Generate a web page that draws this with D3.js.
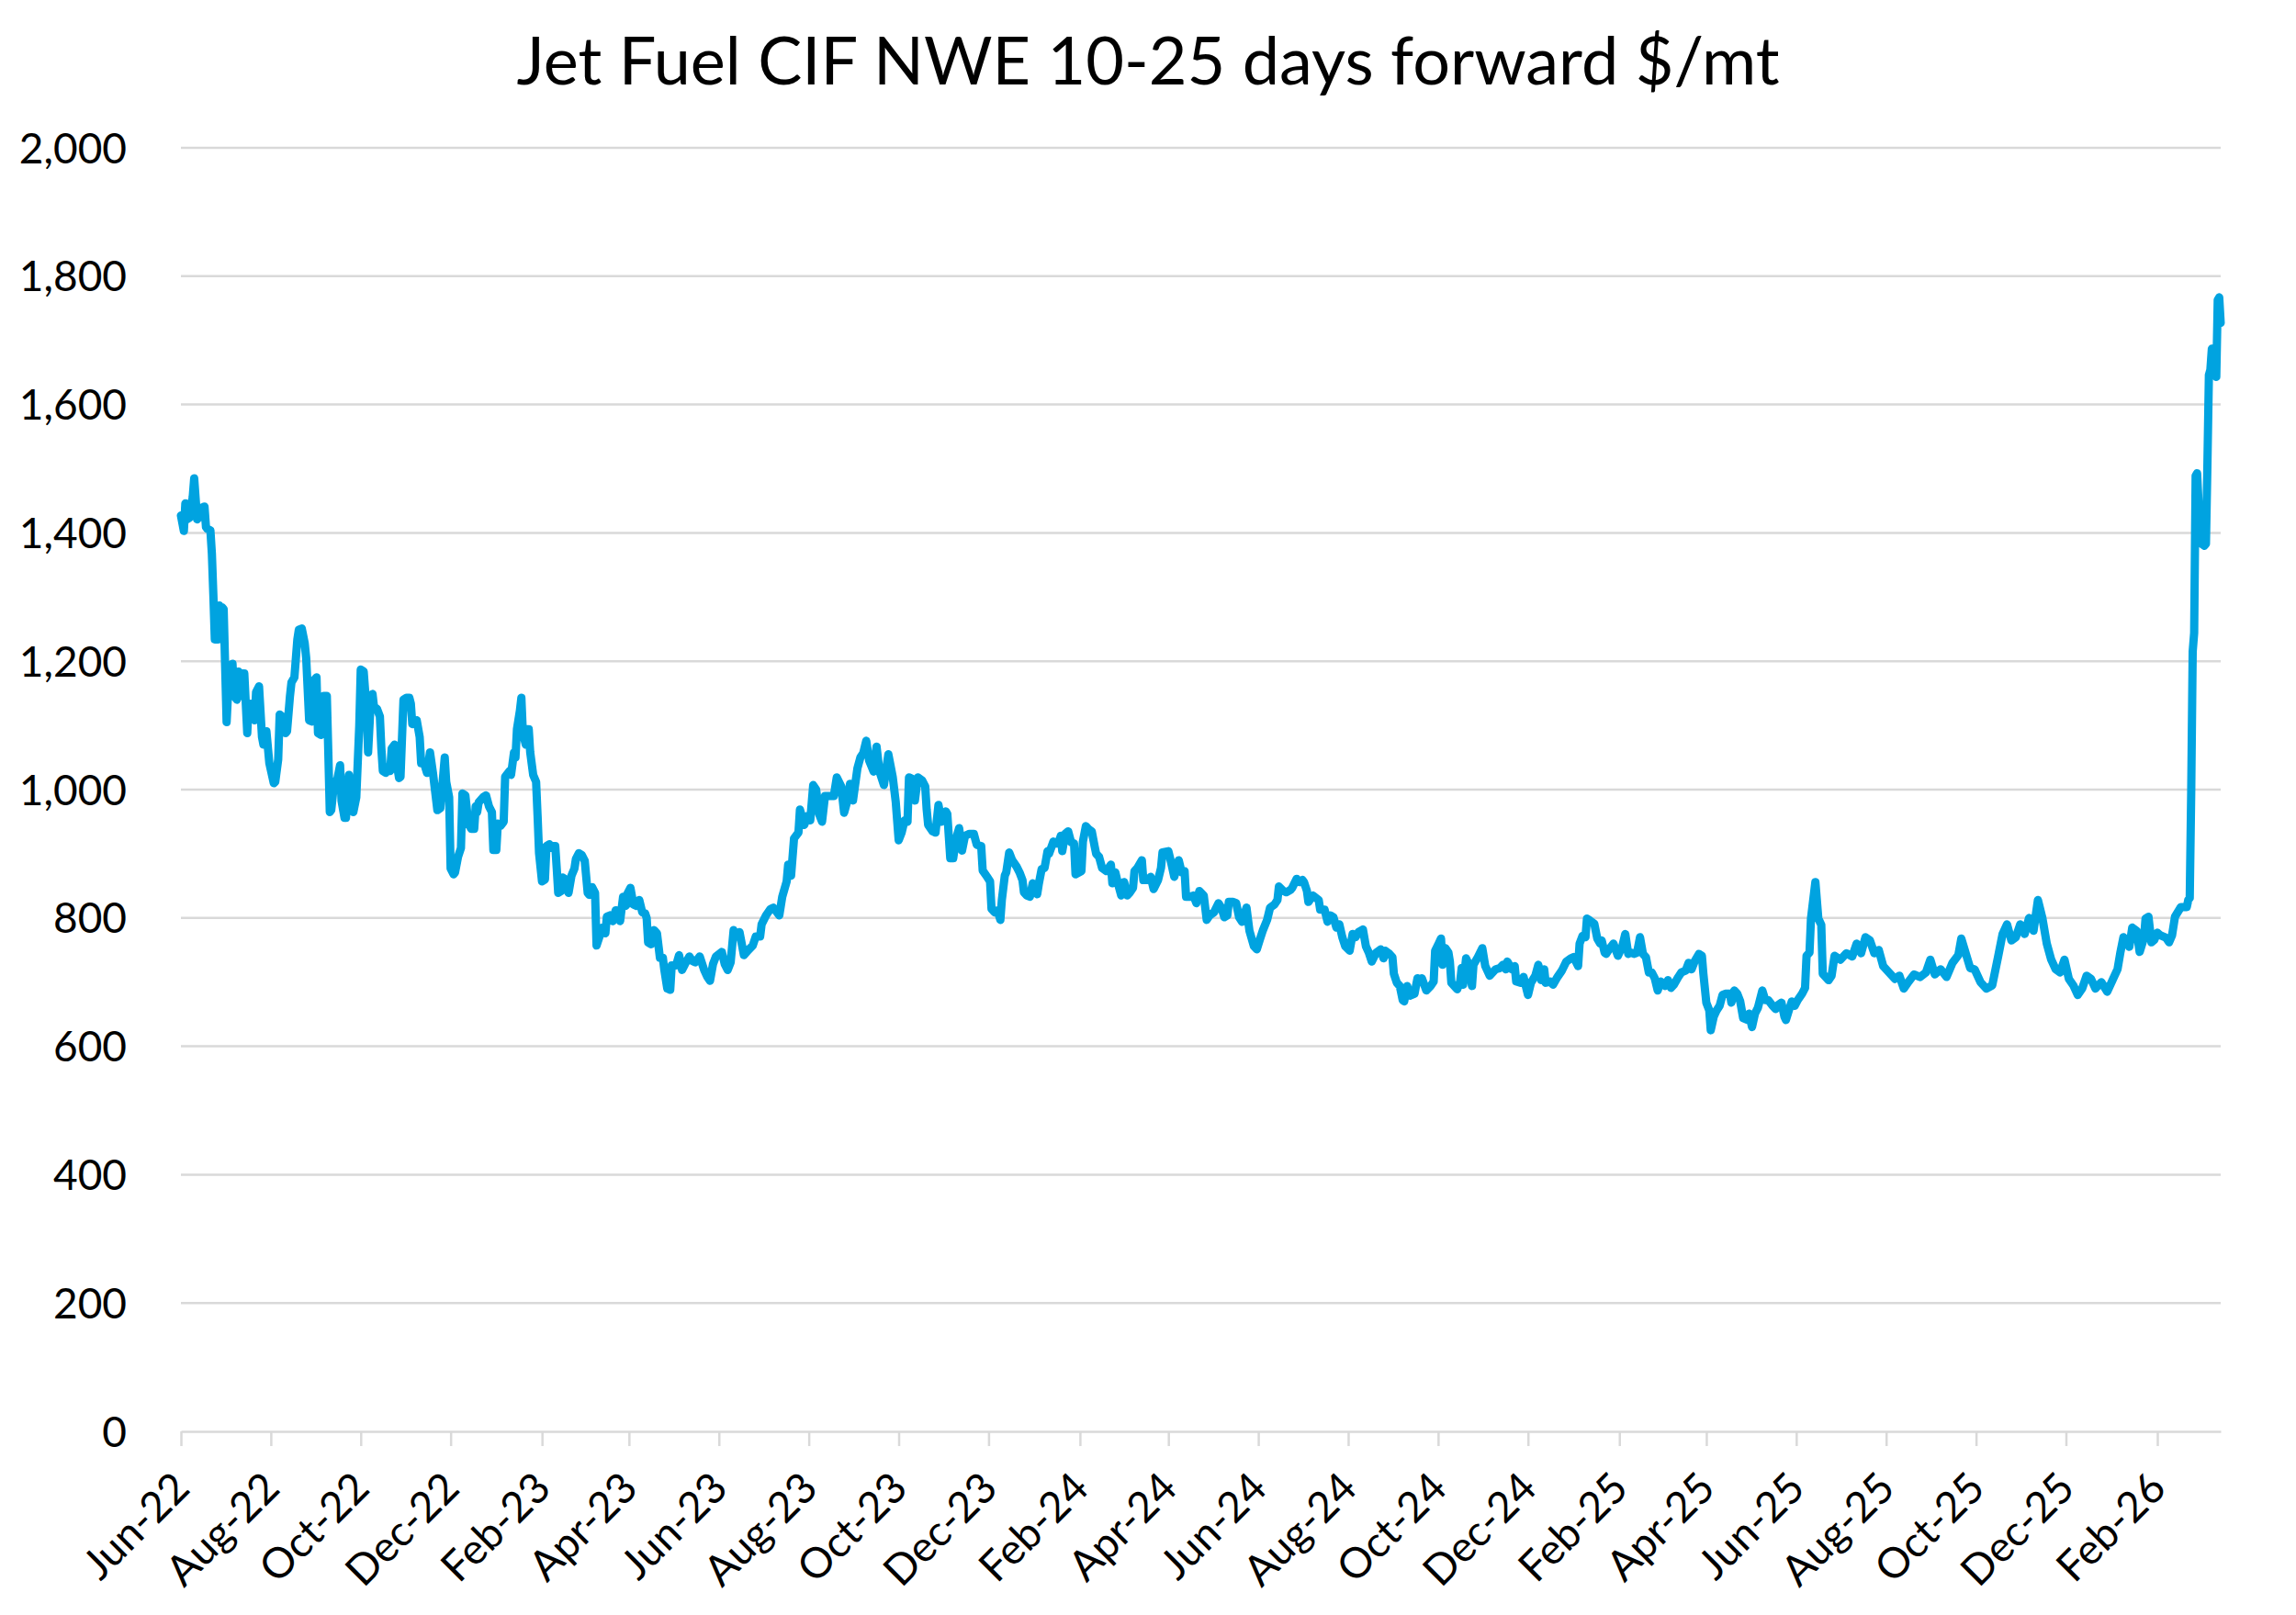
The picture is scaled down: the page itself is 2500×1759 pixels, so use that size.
<!DOCTYPE html>
<html>
<head>
<meta charset="utf-8">
<script src="https://cdn.jsdelivr.net/npm/d3@7"></script>
<style>
  body { margin: 0; background: #fff; }
  text { font-family: Lato, "Open Sans", sans-serif; }
</style>
</head>
<body>
<svg id="chart" width="2500" height="1759"></svg>
<script>
var chartTitle = "Jet Fuel CIF NWE 10-25 days forward $/mt";

// [month, day, $/mt], one array per year
var p2022 = [
  [6,1,1427],[6,3,1403],[6,4,1446],[6,5,1421],[6,7,1424],[6,9,1456],[6,10,1485],[6,12,1421],[6,13,1424],[6,15,1439],[6,17,1441],[6,18,1409],[6,19,1406],[6,21,1404],[6,22,1368],[6,23,1304],[6,24,1234],[6,26,1234],[6,27,1287],[6,28,1246],[6,29,1284],[6,30,1281],
  [7,2,1105],[7,3,1152],[7,6,1196],[7,7,1146],[7,9,1140],[7,10,1184],[7,12,1146],[7,13,1181],[7,14,1181],[7,16,1088],[7,17,1135],[7,19,1123],[7,21,1108],[7,22,1152],[7,24,1161],[7,26,1082],[7,27,1070],[7,29,1091],[7,31,1041],
  [8,3,1010],[8,4,1012],[8,6,1047],[8,7,1117],[8,10,1111],[8,11,1088],[8,12,1091],[8,14,1146],[8,15,1167],[8,17,1175],[8,19,1234],[8,20,1249],[8,22,1251],[8,24,1228],[8,25,1205],[8,27,1108],[8,29,1106],[8,30,1170],
  [9,1,1175],[9,2,1088],[9,4,1085],[9,6,1146],[9,8,1146],[9,9,1058],[9,10,965],[9,11,968],[9,13,1012],[9,15,1015],[9,17,1038],[9,18,982],[9,20,956],[9,21,956],[9,23,1023],[9,25,968],[9,26,965],[9,28,988],[9,30,1099],
  [10,1,1187],[10,3,1184],[10,5,1123],[10,6,1058],[10,8,1146],[10,9,1149],[10,10,1129],[10,12,1126],[10,14,1114],[10,15,1064],[10,16,1029],[10,18,1026],[10,19,1035],[10,21,1029],[10,22,1064],[10,24,1070],[10,25,1047],[10,27,1018],[10,28,1020],[10,30,1140],
  [11,1,1143],[11,3,1143],[11,4,1134],[11,5,1102],[11,6,1105],[11,8,1108],[11,10,1082],[11,11,1041],[11,13,1041],[11,15,1026],[11,17,1058],[11,19,1026],[11,22,968],[11,24,971],[11,26,1023],[11,27,1050],[11,28,1012],[11,30,988],
  [12,1,877],[12,3,868],[12,4,871],[12,6,895],[12,8,909],[12,9,994],[12,11,991],[12,13,947],[12,15,939],[12,17,939],[12,18,974],[12,19,965],[12,20,980],[12,23,988],[12,25,991],[12,27,974],[12,29,965],[12,30,906]
];
var p2023 = [
  [1,1,906],[1,2,947],[1,4,944],[1,6,950],[1,7,1020],[1,10,1029],[1,11,1023],[1,13,1058],[1,14,1050],[1,15,1094],[1,17,1123],[1,18,1143],[1,19,1088],[1,21,1070],[1,22,1094],[1,23,1094],[1,24,1058],[1,26,1023],[1,28,1012],[1,29,959],[1,30,901],
  [2,1,857],[2,3,860],[2,4,912],[2,6,915],[2,7,909],[2,8,912],[2,10,912],[2,11,877],[2,12,839],[2,14,842],[2,15,863],[2,17,860],[2,19,839],[2,21,866],[2,23,877],[2,24,892],[2,26,901],[2,28,898],
  [3,2,889],[3,4,839],[3,5,836],[3,7,848],[3,9,839],[3,10,757],[3,14,785],[3,16,776],[3,17,802],[3,19,804],[3,21,795],[3,23,812],[3,25,802],[3,26,795],[3,28,833],[3,30,819],[3,31,838],
  [4,2,847],[4,4,821],[4,6,819],[4,8,828],[4,10,809],[4,12,807],[4,13,800],[4,14,762],[4,16,759],[4,18,781],[4,20,776],[4,22,738],[4,24,738],[4,25,719],[4,27,690],[4,29,688],[4,30,726],
  [5,3,726],[5,5,742],[5,7,719],[5,9,728],[5,12,740],[5,14,733],[5,16,731],[5,19,740],[5,22,719],[5,24,709],[5,26,702],[5,28,728],[5,30,740],
  [6,3,747],[6,5,728],[6,7,719],[6,9,731],[6,11,781],[6,13,771],[6,15,778],[6,18,742],[6,21,750],[6,24,757],[6,26,771],[6,29,771],[6,30,790],
  [7,3,804],[7,6,814],[7,8,816],[7,12,804],[7,14,833],[7,17,857],[7,18,883],[7,20,866],[7,22,924],[7,25,933],[7,26,969],[7,29,945],[7,31,959],
  [8,2,952],[8,4,1007],[8,6,1000],[8,8,962],[8,10,950],[8,12,990],[8,15,990],[8,18,990],[8,20,1019],[8,23,1005],[8,25,964],[8,27,981],[8,29,1009],[8,31,983],
  [9,3,1033],[9,5,1050],[9,7,1057],[9,9,1076],[9,11,1045],[9,14,1028],[9,16,1067],[9,18,1028],[9,21,1007],[9,24,1055],[9,27,1019],[9,29,981],
  [10,1,921],[10,3,933],[10,5,952],[10,7,950],[10,8,1019],[10,10,1017],[10,12,983],[10,14,1019],[10,17,1014],[10,19,1005],[10,20,969],[10,21,945],[10,24,935],[10,26,933],[10,28,976],[10,30,950],
  [11,2,966],[11,3,962],[11,5,893],[11,7,893],[11,9,924],[11,11,940],[11,13,905],[11,15,928],[11,18,931],[11,21,931],[11,23,914],[11,26,912],[11,27,874],[11,30,864],
  [12,2,857],[12,3,814],[12,5,809],[12,7,812],[12,9,797],[12,10,828],[12,12,866],[12,13,871],[12,15,902],[12,17,890],[12,20,880],[12,22,871],[12,24,859],[12,25,840],[12,27,835],[12,29,833],[12,31,854]
];
var p2024 = [
  [1,1,847],[1,3,837],[1,4,852],[1,6,876],[1,8,878],[1,10,904],[1,11,900],[1,14,919],[1,16,916],[1,18,921],[1,19,928],[1,20,904],[1,22,931],[1,24,935],[1,26,918],[1,28,916],[1,29,868],
  [2,2,873],[2,3,919],[2,5,943],[2,7,938],[2,9,935],[2,11,911],[2,12,900],[2,14,895],[2,16,878],[2,19,873],[2,22,883],[2,23,854],[2,25,871],[2,27,852],[2,29,835],
  [3,2,856],[3,4,835],[3,6,840],[3,8,847],[3,9,873],[3,11,878],[3,14,890],[3,15,859],[3,18,859],[3,20,864],[3,22,845],[3,25,859],[3,27,878],[3,28,902],
  [4,1,904],[4,3,885],[4,5,864],[4,8,890],[4,10,871],[4,12,873],[4,13,833],[4,16,833],[4,18,835],[4,20,823],[4,22,842],[4,25,835],[4,27,797],[4,29,804],
  [5,2,809],[5,5,823],[5,7,816],[5,9,801],[5,11,804],[5,12,825],[5,15,825],[5,17,823],[5,19,801],[5,21,794],[5,23,809],[5,24,816],[5,26,780],[5,29,756],[5,31,751],
  [6,2,766],[6,4,780],[6,7,797],[6,9,816],[6,12,821],[6,14,828],[6,15,849],[6,18,842],[6,20,840],[6,23,844],[6,24,847],[6,27,861],[6,29,856],
  [7,1,859],[7,2,856],[7,4,842],[7,5,825],[7,8,835],[7,12,828],[7,13,813],[7,16,813],[7,18,794],[7,20,804],[7,22,801],[7,24,785],[7,26,790],[7,28,770],[7,30,756],
  [8,2,749],[8,4,775],[8,6,770],[8,8,778],[8,11,782],[8,13,756],[8,15,746],[8,17,732],[8,20,746],[8,23,751],[8,25,737],[8,26,749],[8,29,744],[8,31,739],
  [9,1,713],[9,3,699],[9,5,694],[9,7,672],[9,8,670],[9,10,694],[9,12,679],[9,15,682],[9,17,706],[9,19,701],[9,20,706],[9,23,687],[9,26,694],[9,28,701],[9,29,749],
  [10,1,758],[10,3,768],[10,4,727],[10,6,753],[10,8,746],[10,9,732],[10,10,699],[10,14,689],[10,16,701],[10,17,722],[10,18,696],[10,20,737],[10,22,727],[10,24,694],[10,25,727],[10,28,739],[10,31,753],
  [11,2,725],[11,5,710],[11,9,720],[11,12,722],[11,14,727],[11,16,720],[11,17,732],[11,20,720],[11,22,725],[11,23,701],[11,26,699],[11,28,708],
  [12,1,680],[12,3,699],[12,6,710],[12,8,727],[12,10,703],[12,12,720],[12,13,699],[12,16,701],[12,18,696],[12,21,708],[12,24,718],[12,27,732],[12,30,737]
];
var p2025 = [
  [1,1,739],[1,4,725],[1,5,760],[1,7,772],[1,9,770],[1,10,799],[1,12,796],[1,15,791],[1,17,768],[1,19,760],[1,20,765],[1,22,746],[1,23,744],[1,25,751],[1,28,760],[1,31,741],
  [2,3,756],[2,5,775],[2,7,744],[2,9,746],[2,11,744],[2,13,746],[2,15,770],[2,17,744],[2,19,739],[2,21,715],[2,23,715],[2,25,706],[2,27,687],
  [3,1,701],[3,4,694],[3,6,703],[3,8,691],[3,10,696],[3,13,708],[3,15,715],[3,18,718],[3,20,730],[3,22,720],[3,24,732],[3,27,744],[3,29,741],[3,30,713],
  [4,1,668],[4,3,656],[4,4,625],[4,6,646],[4,8,656],[4,10,663],[4,12,680],[4,14,682],[4,17,682],[4,18,668],[4,20,687],[4,22,682],[4,24,670],[4,26,644],[4,29,641],[4,30,651],
  [5,2,630],[5,4,651],[5,6,660],[5,9,687],[5,11,672],[5,13,672],[5,16,663],[5,18,658],[5,20,665],[5,22,668],[5,24,646],[5,25,641],[5,27,656],[5,29,670],[5,31,663],
  [6,2,672],[6,5,682],[6,7,691],[6,8,741],[6,10,746],[6,11,799],[6,14,856],[6,16,799],[6,18,789],[6,19,713],[6,21,708],[6,23,703],[6,25,710],[6,27,741],
  [7,1,735],[7,5,745],[7,9,740],[7,12,760],[7,15,745],[7,18,770],[7,21,765],[7,24,745],[7,27,750],[7,30,725],
  [8,3,715],[8,7,705],[8,10,710],[8,13,690],[8,16,700],[8,20,712],[8,24,708],[8,28,715],[8,31,735],
  [9,3,712],[9,7,720],[9,11,708],[9,15,730],[9,19,742],[9,21,768],[9,24,745],[9,27,722],[9,30,720],
  [10,4,700],[10,8,690],[10,12,695],[10,16,740],[10,19,775],[10,22,790],[10,25,765],[10,28,770],[10,31,790],
  [11,3,775],[11,6,800],[11,9,780],[11,12,828],[11,15,800],[11,18,760],[11,21,735],[11,24,720],[11,27,715],[11,30,735],
  [12,3,705],[12,6,695],[12,9,680],[12,12,690],[12,15,710],[12,18,705],[12,21,690],[12,25,700],[12,29,685]
];
var p2026 = [
  [1,2,705],[1,5,720],[1,7,747],[1,9,770],[1,11,765],[1,13,755],[1,15,785],[1,18,780],[1,20,747],[1,23,769],[1,24,799],[1,26,802],[1,28,762],[1,30,766],
  [2,1,777],[2,3,773],[2,7,769],[2,9,762],[2,11,773],[2,13,802],[2,17,817],[2,21,817],[2,22,828],[2,23,831],[2,24,996],[2,25,1215],[2,26,1244],[2,27,1489],[2,28,1493],
  [3,2,1398],[3,3,1383],[3,5,1380],[3,6,1383],[3,7,1508],[3,8,1646],[3,9,1654],[3,10,1687],[3,12,1646],[3,13,1643],[3,14,1763],[3,15,1767],[3,16,1727]
];

var yTicks = [0, 200, 400, 600, 800, 1000, 1200, 1400, 1600, 1800, 2000];
var axisStart = new Date(2022, 5, 1);
var axisEnd = new Date(2026, 2, 16);
var xTickDates = d3.timeMonth.range(axisStart, new Date(2026, 2, 1), 2);   // Jun-22 ... Feb-26

var series = [];
[[2022, p2022], [2023, p2023], [2024, p2024], [2025, p2025], [2026, p2026]].forEach(function (yr) {
  yr[1].forEach(function (p) {
    series.push({ date: new Date(yr[0], p[0] - 1, p[1]), value: p[2] });
  });
});

var svg = d3.select("#chart");
svg.append("rect").attr("width", 2500).attr("height", 1759).attr("fill", "#fff");

var x = d3.scaleTime().domain([axisStart, axisEnd]).range([197, 2418]);
var y = d3.scaleLinear().domain([0, 2000]).range([1559, 161]);

// gridlines
svg.append("g")
  .selectAll("line")
  .data(yTicks.filter(function (v) { return v > 0; }))
  .enter().append("line")
  .attr("x1", x.range()[0])
  .attr("x2", x.range()[1])
  .attr("y1", function (d) { return y(d); })
  .attr("y2", function (d) { return y(d); })
  .attr("stroke", "#d9d9d9")
  .attr("stroke-width", 2.5);

// y axis labels
var yAxis = svg.append("g")
  .attr("transform", "translate(197,0)")
  .call(d3.axisLeft(y).tickValues(yTicks).tickSize(0).tickPadding(59).tickFormat(d3.format(",")));
yAxis.select(".domain").remove();
yAxis.attr("font-family", "Lato").attr("font-size", 46);
yAxis.selectAll("text").attr("fill", "#000").attr("dy", "0.35em");

// x axis
var xAxis = svg.append("g")
  .attr("transform", "translate(0,1559)")
  .call(d3.axisBottom(x).tickValues(xTickDates).tickSize(16).tickSizeOuter(0)
    .tickFormat(d3.timeFormat("%b-%y")));
xAxis.attr("font-family", "Lato").attr("font-size", 46);
xAxis.select(".domain").attr("stroke", "#d9d9d9").attr("stroke-width", 2.5);
xAxis.selectAll(".tick line").attr("stroke", "#d9d9d9").attr("stroke-width", 2.5);
xAxis.selectAll("text")
  .attr("fill", "#000")
  .attr("x", 0)
  .attr("y", 0)
  .attr("dy", "0.35em")
  .attr("transform", "translate(0,53) rotate(-45)")
  .style("text-anchor", "end");

// price line
var line = d3.line()
  .x(function (d) { return x(d.date); })
  .y(function (d) { return y(d.value); });

svg.append("path")
  .datum(series)
  .attr("d", line)
  .attr("fill", "none")
  .attr("stroke", "#00a3e0")
  .attr("stroke-width", 9)
  .attr("stroke-linejoin", "round")
  .attr("stroke-linecap", "round");

// title
svg.append("text")
  .attr("x", 1250)
  .attr("y", 92)
  .attr("text-anchor", "middle")
  .attr("font-size", 72)
  .attr("fill", "#000")
  .text(chartTitle);
</script>
</body>
</html>
